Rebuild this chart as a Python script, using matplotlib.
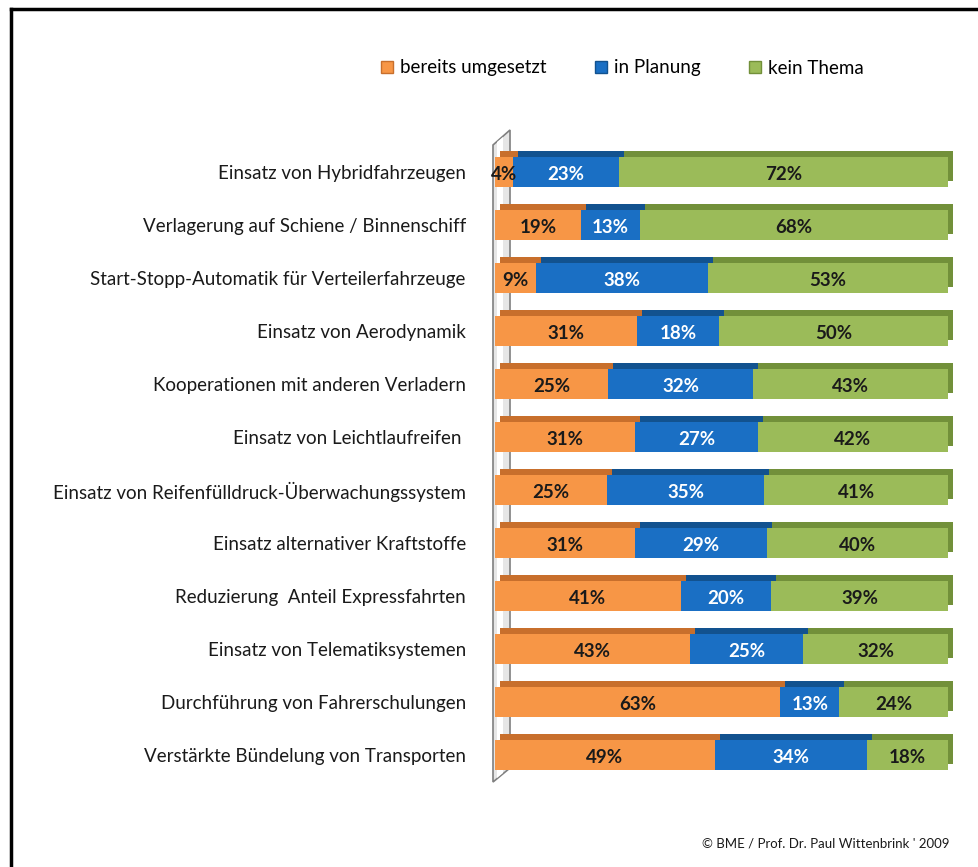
import matplotlib.pyplot as plt
import numpy as np
from matplotlib.patches import Patch, Polygon
from matplotlib.lines import Line2D
from matplotlib.transforms import offset_copy

plt.rcParams["font.family"] = ["Lato", "DejaVu Sans"]

categories = [
    "Einsatz von Hybridfahrzeugen",
    "Verlagerung auf Schiene / Binnenschiff",
    "Start-Stopp-Automatik für Verteilerfahrzeuge",
    "Einsatz von Aerodynamik",
    "Kooperationen mit anderen Verladern",
    "Einsatz von Leichtlaufreifen ",
    "Einsatz von Reifenfülldruck-Überwachungssystem",
    "Einsatz alternativer Kraftstoffe",
    "Reduzierung  Anteil Expressfahrten",
    "Einsatz von Telematiksystemen",
    "Durchführung von Fahrerschulungen",
    "Verstärkte Bündelung von Transporten",
]
umgesetzt = [4, 19, 9, 31, 25, 31, 25, 31, 41, 43, 63, 49]
planung = [23, 13, 38, 18, 32, 27, 35, 29, 20, 25, 13, 34]
kein_thema = [72, 68, 53, 50, 43, 42, 41, 40, 39, 32, 24, 18]

series = ["bereits umgesetzt", "in Planung", "kein Thema"]
front = ["#f79646", "#1a6fc4", "#9bbb59"]
side = ["#c86f2c", "#12528f", "#72903a"]
txt_col = ["#1a1a1a", "white", "#1a1a1a"]

W, H = 979, 867


def px(x, y):
    return (x / W, 1 - y / H)


fig = plt.figure(figsize=(W / 100, H / 100), dpi=100)
ax = fig.add_axes([495 / W, 1 - 790 / H, 453 / W, 665 / H])
ax.patch.set_visible(False)

vals = np.array([umgesetzt, planung, kein_thema], dtype=float)
shares = vals / vals.sum(axis=0) * 100  # 100% stacked, like the original
y = np.arange(len(categories))
h = 0.55

# back copy shifted up/right gives the top and end faces
back = offset_copy(ax.transData, fig=fig, x=5, y=6, units="dots")
left = np.zeros(len(y))
for i in range(3):
    bars = ax.barh(y, shares[i], left=left, height=h, color=side[i],
                   edgecolor="none", transform=back, zorder=1)
    for b in bars:
        b.set_clip_on(False)
    left += shares[i]

left = np.zeros(len(y))
for i in range(3):
    ax.barh(y, shares[i], left=left, height=h, color=front[i],
            edgecolor="none", zorder=2)
    for yy, l, s, v in zip(y, left, shares[i], vals[i]):
        ax.text(l + s / 2, yy + 0.04, f"{int(v)}%", ha="center", va="center",
                color=txt_col[i], fontsize=13.5, fontweight="bold", zorder=3)
    left += shares[i]

ax.set_xlim(0, 100)
ax.set_ylim(11.66, -0.887)
ax.set_yticks(y, categories)
ax.tick_params(axis="y", length=0, pad=21, labelsize=13.5, labelcolor="#1a1a1a")
ax.set_xticks([])
for s in ax.spines.values():
    s.set_visible(False)

# left wall
wall = Polygon([px(493, 145), px(510, 130), px(510, 768), px(493, 782)],
               closed=True, transform=fig.transFigure, facecolor="#e6e6e6",
               edgecolor="#7f7f7f", lw=1.2, zorder=-1)
fig.patches.append(wall)
hl = Polygon([px(497, 142), px(503, 137), px(503, 773), px(497, 778)],
             closed=True, transform=fig.transFigure, facecolor="white",
             edgecolor="none", zorder=-1)
fig.patches.append(hl)

handles = [Patch(facecolor=front[i], edgecolor=side[i]) for i in range(3)]
fig.legend(handles, series, loc="center", bbox_to_anchor=(0.636, 1 - 68 / H),
           ncol=3, frameon=False, fontsize=13.5, handlelength=0.6,
           handleheight=0.6, handletextpad=0.4, columnspacing=2.6)

fig.text(*px(950, 843), "© BME / Prof. Dr. Paul Wittenbrink ' 2009",
         ha="right", va="center", fontsize=9.5, color="#1a1a1a")

# frame
fig.lines.append(Line2D([11 / W, 11 / W], [0, 1 - 9 / H], color="black",
                        lw=2.5, transform=fig.transFigure))
fig.lines.append(Line2D([11 / W, 1], [1 - 9 / H, 1 - 9 / H], color="black",
                        lw=2.5, transform=fig.transFigure))

fig.savefig("out.png", dpi=100, facecolor="white")
